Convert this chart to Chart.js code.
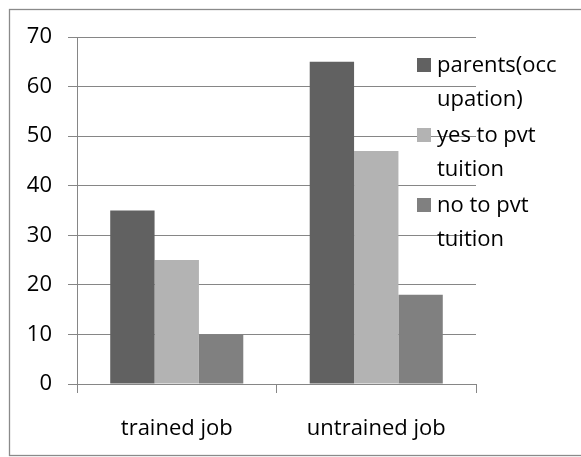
<!DOCTYPE html>
<html>
<head>
<meta charset="utf-8">
<script src="https://cdn.jsdelivr.net/npm/chart.js@4.4.1/dist/chart.umd.min.js"></script>
<style>
html,body{margin:0;padding:0;background:#fff;}
#wrap{width:581px;height:457px;position:relative;}
</style>
</head>
<body>
<div id="wrap"><canvas id="c" width="581" height="457"></canvas></div>
<script>
const categories = ["trained job", "untrained job"];
const seriesNames = [["parents(occ", "upation)"], ["yes to pvt", "tuition"], ["no to pvt", "tuition"]];
const parentsOccupation = [35, 65];
const yesToPvtTuition = [25, 47];
const noToPvtTuition = [10, 18];
const yTicks = [0, 10, 20, 30, 40, 50, 60, 70];
const colors = ["#616161", "#b3b3b3", "#808080"];
const FONT = "'Open Sans', sans-serif";

const frame = {
  id: 'frame',
  beforeDraw(chart) {
    const ctx = chart.ctx;
    ctx.save();
    ctx.fillStyle = '#fff';
    ctx.fillRect(0, 0, chart.width, chart.height);
    ctx.strokeStyle = '#8a8a8a';
    ctx.lineWidth = 1.3;
    ctx.strokeRect(9.5, 9.5, 600, 446);
    ctx.restore();
  }
};

const legendPlugin = {
  id: 'customLegend',
  afterDraw(chart) {
    const ctx = chart.ctx;
    ctx.save();
    ctx.font = "22px " + FONT;
    ctx.textBaseline = 'middle';
    ctx.textAlign = 'left';
    chart.data.datasets.forEach((ds, i) => {
      const y0 = 65 + i * 70;
      ctx.fillStyle = ds.backgroundColor;
      ctx.fillRect(417, y0 - 7, 14, 14);
      ctx.fillStyle = '#000';
      ds.legendLines.forEach((t, j) => {
        ctx.fillText(t, 437, y0 + 1 + j * 34);
      });
    });
    ctx.restore();
  }
};

new Chart(document.getElementById('c'), {
  type: 'bar',
  data: {
    labels: categories,
    datasets: [
      { label: seriesNames[0].join(''), legendLines: seriesNames[0], data: parentsOccupation, backgroundColor: colors[0] },
      { label: seriesNames[1].join(' '), legendLines: seriesNames[1], data: yesToPvtTuition, backgroundColor: colors[1] },
      { label: seriesNames[2].join(' '), legendLines: seriesNames[2], data: noToPvtTuition, backgroundColor: colors[2] }
    ]
  },
  options: {
    responsive: false,
    animation: false,
    layout: { padding: { left: 0, top: 37, right: 105, bottom: 0 } },
    datasets: { bar: { categoryPercentage: 0.667, barPercentage: 1.0 } },
    plugins: { legend: { display: false }, tooltip: { enabled: false } },
    scales: {
      x: {
        afterFit(s) { s.height = 73; },
        border: { color: '#868686', width: 1 },
        grid: { drawOnChartArea: false, drawTicks: true, tickLength: 9, color: '#868686', offset: true },
        ticks: { color: '#000', font: { family: FONT, size: 22 }, padding: 23 }
      },
      y: {
        min: 0, max: 70,
        afterFit(s) { s.width = 77; },
        afterBuildTicks(s) { s.ticks = yTicks.map(v => ({ value: v })); },
        border: { color: '#868686', width: 1 },
        grid: { color: '#868686', lineWidth: 1, tickLength: 9 },
        ticks: { color: '#000', font: { family: FONT, size: 22 }, padding: 16 }
      }
    }
  },
  plugins: [frame, legendPlugin]
});
</script>
</body>
</html>
